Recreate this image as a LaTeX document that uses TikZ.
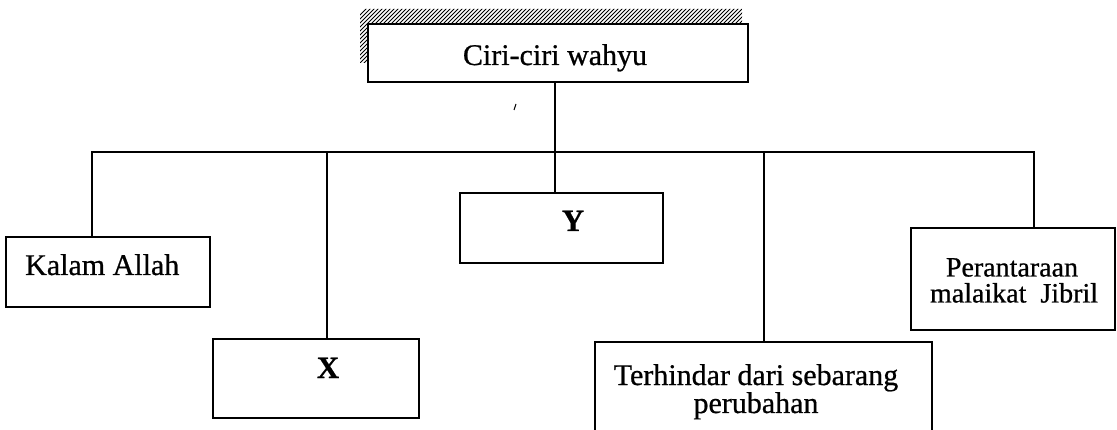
\documentclass[tikz,border=0pt]{standalone}
\usepackage{fontspec}
\setmainfont{Liberation Serif}
\newfontfamily\scanfont[FakeBold=0.7]{Liberation Serif}
\begin{document}
\begin{tikzpicture}[x=1pt,y=-1pt,
  box/.style={draw, line width=1.8pt, rectangle, inner sep=0pt},
  conn/.style={line width=1.8pt},
  txt/.style={font=\scanfont\fontsize{30}{28}\selectfont, inner sep=0pt, anchor=base},
  bigtxt/.style={font=\scanfont\fontsize{31}{30}\selectfont\bfseries, inner sep=0pt, anchor=base}]
\useasboundingbox (0,0) rectangle (1117,430);
% hatching
\begin{scope}
  \clip (360,9) rectangle (742,24) (360,24) rectangle (368,63);
  \foreach \i in {0,4,...,460} \draw[line width=1pt] (\i+300,75) -- (\i+370,5);
\end{scope}
% boxes
\node[box, minimum width=380pt, minimum height=58pt] (top) at (558,53) {};
\node[box, minimum width=204pt, minimum height=70pt] (kalam) at (108,272) {};
\node[box, minimum width=206pt, minimum height=79pt] (xb) at (316,378.5) {};
\node[box, minimum width=203pt, minimum height=70pt] (yb) at (561.5,228) {};
\node[box, minimum width=337pt, minimum height=90pt] (terh) at (763.5,387) {};
\node[box, minimum width=204pt, minimum height=102pt] (peran) at (1013,279) {};
% texts
\node[txt] (tTop) at (555,65) {Ciri-ciri wahyu};
\node[txt, anchor=base west] (tKalam) at (25,275) {Kalam Allah};
\node[bigtxt] (tX) at (328,378) {X};
\node[bigtxt] (tY) at (573,231) {Y};
\node[txt, align=center] (tTerh) at (756,413) {Terhindar dari sebarang\\perubahan};
\node[txt, align=center, font=\scanfont\fontsize{28}{26}\selectfont] (tPer) at (1012,302.5) {Perantaraan\\\hspace*{4pt}malaikat\ \ Jibril};
% connectors
\coordinate (jc) at (555,152);
\coordinate (ja) at (92,152);
\coordinate (jx) at (327,152);
\coordinate (jt) at (764,152);
\coordinate (jp) at (1034,152);
\draw[conn] (jc |- top.south) -- (jc);
\draw[conn] (ja |- kalam.north) -- (ja) -- (jp) -- (jp |- peran.north);
\draw[conn] (jx) -- (jx |- xb.north);
\draw[conn] (jc) -- (jc |- yb.north);
\draw[conn] (jt) -- (jt |- terh.north);
% stray tick mark
\coordinate (tk1) at (514,110);
\coordinate (tk2) at (516,104);
\draw[line width=1pt] (tk1) -- (tk2);
\end{tikzpicture}
\end{document}
